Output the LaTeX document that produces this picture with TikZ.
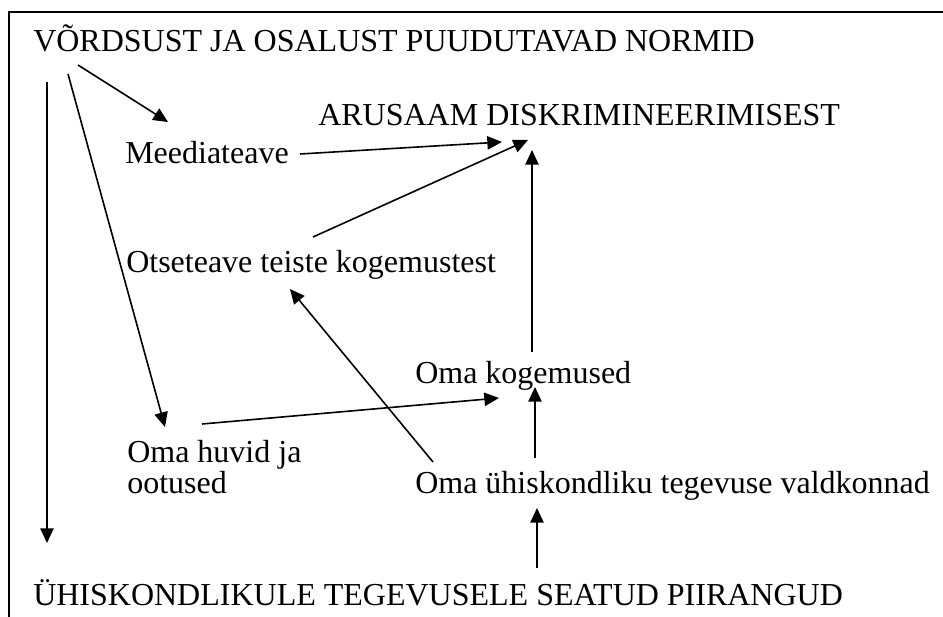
\documentclass[tikz,border=0pt]{standalone}
\usepackage{fontspec}
\setmainfont{Liberation Serif}
\usepackage{tikz}
\usetikzlibrary{arrows.meta,calc}

\begin{document}
\begin{tikzpicture}[x=0.75pt, y=-0.75pt,
  lbl/.style={inner sep=0pt, anchor=base west,
    font=\fontsize{24}{21}\selectfont},
  lnk/.style={-{Triangle[length=11pt, width=10pt]}, line width=1.2pt},
]
\useasboundingbox (0,0) rectangle (943,617);
\draw[line width=1.2pt] (943,12) -- (9,12) -- (9,617);
\node[lbl] (vord) at (33,52) {VÕRDSUST JA OSALUST PUUDUTAVAD NORMID};
\node[lbl] (arus) at (318,126) {ARUSAAM DISKRIMINEERIMISEST};
\node[lbl] (meedia) at (125,163) {Meediateave};
\node[lbl] (otse) at (126,272) {Otseteave teiste kogemustest};
\node[lbl] (kog) at (415,383) {Oma kogemused};
\node[lbl, align=left] (huvid) at (127,493) {Oma huvid ja\\ootused};
\node[lbl] (valdk) at (415,493) {Oma ühiskondliku tegevuse valdkonnad};
\node[lbl] (piir) at (33,605) {ÜHISKONDLIKULE TEGEVUSELE SEATUD PIIRANGUD};
\draw[lnk] ($(vord.base west)+(45,13)$) -- ($(meedia.base west)+(43,-41)$);
\draw[lnk] ($(vord.base west)+(35,22)$) -- ($(huvid.base west)+(38,-66)$);
\draw[lnk] ($(vord.base west)+(14,30)$) -- ($(piir.base west)+(14,-62)$);
\draw[lnk] ($(meedia.base west)+(175,-9)$) -- ($(arus.base west)+(184,16)$);
\draw[lnk] ($(otse.base west)+(187,-35)$) -- ($(arus.base west)+(210,14)$);
\draw[lnk] ($(kog.base west)+(117,-31)$) -- ($(arus.base west)+(214,24)$);
\draw[lnk] ($(huvid.base west)+(75,-69)$) -- ($(kog.base west)+(84,15)$);
\draw[lnk] ($(valdk.base west)+(18,-31)$) -- ($(otse.base west)+(164,17)$);
\draw[lnk] ($(valdk.base west)+(120,-35)$) -- ($(kog.base west)+(120,4)$);
\draw[lnk] ($(piir.base west)+(504,-37)$) -- ($(valdk.base west)+(122,15)$);
\end{tikzpicture}
\end{document}
